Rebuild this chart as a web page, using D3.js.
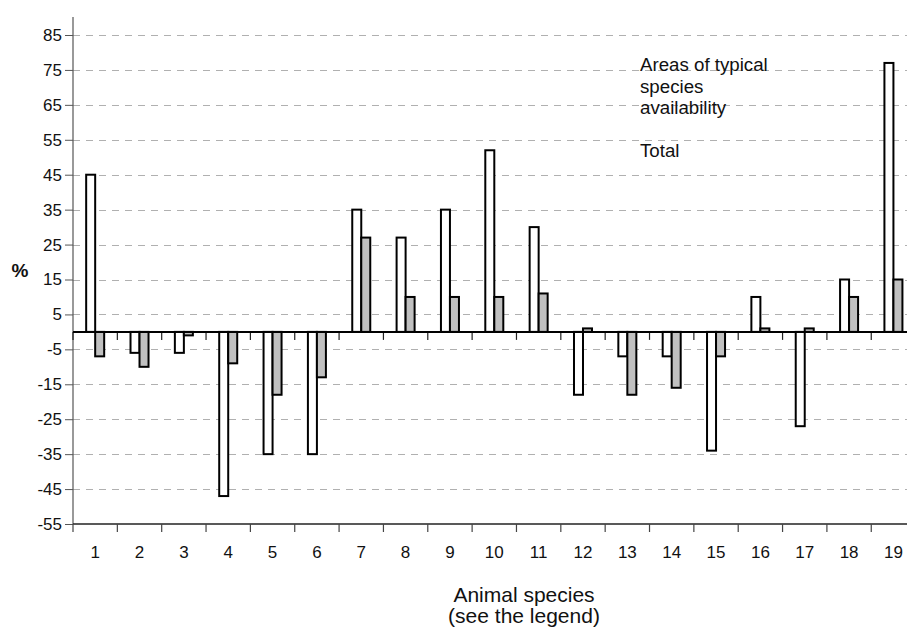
<!DOCTYPE html>
<html>
<head>
<meta charset="utf-8">
<script src="https://cdn.jsdelivr.net/npm/d3@7"></script>
<style>
  html, body { margin: 0; padding: 0; background: #fff; }
  svg { display: block; font-family: "Liberation Sans", Arial, sans-serif; }
</style>
</head>
<body>
<svg id="chart" width="907" height="631"></svg>
<script>
const categories = ["1","2","3","4","5","6","7","8","9","10","11","12","13","14","15","16","17","18","19"];
const areasTypical = [45, -6, -6, -47, -35, -35, 35, 27, 35, 52, 30, -18, -7, -7, -34, 10, -27, 15, 77];
const totalValues = [-7, -10, -1, -9, -18, -13, 27, 10, 10, 10, 11, 1, -18, -16, -7, 1, 1, 10, 15];
const yTicks = [85, 75, 65, 55, 45, 35, 25, 15, 5, -5, -15, -25, -35, -45, -55];
const legendLines = ["Areas of typical", "species", "availability", "", "Total"];
const yLabel = "%";
const xTitle = ["Animal species", "(see the legend)"];

(function () {
const svg = d3.select("#chart");
const pLeft = 73, pRight = 915.6, pTop = 35, pBottom = 524;

const x = d3.scaleBand().domain(categories).range([pLeft, pRight]).paddingInner(0).paddingOuter(0);
const y = d3.scaleLinear().domain([-55, 85]).range([pBottom, pTop]);
const bw = x.bandwidth() * 0.203;

// gridlines
svg.append("g").selectAll("line").data(yTicks.filter(d => d > -55)).join("line")
  .attr("x1", pLeft).attr("x2", 907)
  .attr("y1", d => Math.round(y(d)) + 0.5).attr("y2", d => Math.round(y(d)) + 0.5)
  .attr("stroke", "#b0b0b0").attr("stroke-width", 1)
  .attr("stroke-dasharray", "7,6");

// y axis
const yAxis = d3.axisLeft(y).tickValues(yTicks).tickSize(8).tickPadding(3).tickFormat(d => String(d));
const gy = svg.append("g").attr("transform", `translate(${pLeft},0)`).call(yAxis);
gy.select(".domain").remove();
gy.selectAll(".tick line").attr("stroke", "#555");
gy.selectAll(".tick text").attr("font-size", 17).attr("fill", "#111")
  .attr("font-family", "Liberation Sans, Arial, sans-serif");
svg.append("line").attr("x1", pLeft).attr("x2", pLeft).attr("y1", 17).attr("y2", pBottom)
  .attr("stroke", "#555").attr("stroke-width", 1.2);

// bottom x axis
const xAxis = d3.axisBottom(x).tickSize(0).tickPadding(22);
const gx = svg.append("g").attr("transform", `translate(0,${pBottom})`).call(xAxis);
gx.select(".domain").remove();
gx.selectAll(".tick text").attr("font-size", 17).attr("fill", "#111")
  .attr("font-family", "Liberation Sans, Arial, sans-serif");

const boundaries = categories.map(c => x(c)).concat([x(categories[categories.length - 1]) + x.bandwidth()]);
svg.append("line").attr("x1", pLeft).attr("x2", 907).attr("y1", pBottom).attr("y2", pBottom)
  .attr("stroke", "#222").attr("stroke-width", 1.6);
svg.append("g").selectAll("line").data(boundaries).join("line")
  .attr("x1", d => d).attr("x2", d => d).attr("y1", pBottom).attr("y2", pBottom + 8)
  .attr("stroke", "#444").attr("stroke-width", 1.2);

// ticks under zero line
svg.append("g").selectAll("line").data(boundaries).join("line")
  .attr("x1", d => d).attr("x2", d => d).attr("y1", y(0)).attr("y2", y(0) + 8)
  .attr("stroke", "#222").attr("stroke-width", 1.2);

// bars
const barG = svg.append("g");
barG.selectAll("rect.a").data(areasTypical).join("rect").attr("class", "a")
  .attr("x", (d, i) => x(categories[i]) + x.bandwidth() / 2 - bw)
  .attr("width", bw)
  .attr("y", d => Math.min(y(d), y(0)))
  .attr("height", d => Math.abs(y(d) - y(0)))
  .attr("fill", "#ffffff").attr("stroke", "#000").attr("stroke-width", 2);
barG.selectAll("rect.t").data(totalValues).join("rect").attr("class", "t")
  .attr("x", (d, i) => x(categories[i]) + x.bandwidth() / 2)
  .attr("width", bw)
  .attr("y", d => Math.min(y(d), y(0)))
  .attr("height", d => Math.abs(y(d) - y(0)))
  .attr("fill", "#c0c0c0").attr("stroke", "#000").attr("stroke-width", 2);

// zero line
svg.append("line").attr("x1", pLeft).attr("x2", 907).attr("y1", y(0)).attr("y2", y(0))
  .attr("stroke", "#000").attr("stroke-width", 2);

// y label
svg.append("text").attr("x", 20).attr("y", 277).attr("text-anchor", "middle")
  .attr("font-size", 19).attr("font-weight", "bold").attr("fill", "#111").text(yLabel);

// legend text
svg.append("g").selectAll("text").data(legendLines).join("text")
  .attr("x", 640).attr("y", (d, i) => 71.3 + i * 21.3)
  .attr("font-size", 18.7).attr("fill", "#111").text(d => d);

// x title
svg.append("g").selectAll("text").data(xTitle).join("text")
  .attr("x", 524).attr("y", (d, i) => 601.5 + i * 21.5).attr("text-anchor", "middle")
  .attr("font-size", 21).attr("fill", "#111").text(d => d);
})();
</script>
</body>
</html>
